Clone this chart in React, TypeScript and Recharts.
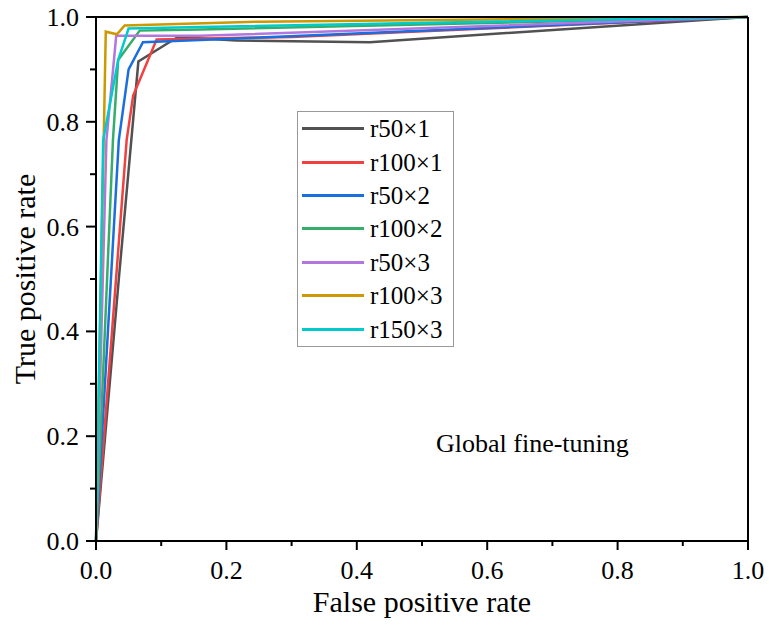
import { LineChart, Line, XAxis, YAxis, ReferenceLine } from "recharts";

// ROC points (false positive rate / true positive rate)
const fprR50x1 = [0, 0.035, 0.065, 0.11, 0.126, 0.215, 0.42, 1];
const tprR50x1 = [0, 0.5, 0.915, 0.95, 0.962, 0.955, 0.952, 1];

const fprR100x1 = [0, 0.047, 0.057, 0.093, 0.3, 1];
const tprR100x1 = [0, 0.765, 0.85, 0.957, 0.962, 1];

const fprR50x2 = [0, 0.035, 0.05, 0.072, 0.16, 1];
const tprR50x2 = [0, 0.765, 0.9, 0.952, 0.956, 1];

const fprR100x2 = [0, 0.026, 0.034, 0.067, 0.16, 1];
const tprR100x2 = [0, 0.765, 0.918, 0.974, 0.976, 1];

const fprR50x3 = [0, 0.016, 0.031, 0.16, 1];
const tprR50x3 = [0, 0.765, 0.964, 0.964, 1];

const fprR100x3 = [0, 0.015, 0.032, 0.044, 0.25, 1];
const tprR100x3 = [0, 0.972, 0.967, 0.984, 0.991, 1];

const fprR150x3 = [0, 0.011, 0.034, 0.05, 0.16, 1];
const tprR150x3 = [0, 0.765, 0.918, 0.978, 0.981, 1];

const seriesNames = ["r50×1", "r100×1", "r50×2", "r100×2", "r50×3", "r100×3", "r150×3"];
const seriesColors = ["#515151", "#F14040", "#1A6FDF", "#37AD6B", "#B177DE", "#CC9900", "#00CBCC"];
const seriesFpr = [fprR50x1, fprR100x1, fprR50x2, fprR100x2, fprR50x3, fprR100x3, fprR150x3];
const seriesTpr = [tprR50x1, tprR100x1, tprR50x2, tprR100x2, tprR50x3, tprR100x3, tprR150x3];

const axisTicks = [0, 0.1, 0.2, 0.3, 0.4, 0.5, 0.6, 0.7, 0.8, 0.9, 1];
const FONT = "'Liberation Serif', 'Times New Roman', serif";

const series = seriesNames.map((name, i) => ({
  name,
  color: seriesColors[i],
  data: seriesFpr[i].map((fpr, j) => ({ fpr, tpr: seriesTpr[i][j] })),
}));

const isMajor = (v: number) => Math.round(v * 10) % 2 === 0;

function XTick(props: any) {
  const { x, y, payload } = props;
  const major = isMajor(payload.value);
  return (
    <g>
      <line x1={x} x2={x} y1={y} y2={y + (major ? 9 : 5)} stroke="#000" strokeWidth={2} />
      {major && (
        <text x={x} y={y + 38} textAnchor="middle" fontSize={26} fontFamily={FONT} fill="#000">
          {payload.value.toFixed(1)}
        </text>
      )}
    </g>
  );
}

function YTick(props: any) {
  const { x, y, payload } = props;
  const major = isMajor(payload.value);
  return (
    <g>
      <line x1={x} x2={x - (major ? 10 : 6)} y1={y} y2={y} stroke="#000" strokeWidth={2} />
      {major && (
        <text x={x - 17} y={y + 9} textAnchor="end" fontSize={26} fontFamily={FONT} fill="#000">
          {payload.value.toFixed(1)}
        </text>
      )}
    </g>
  );
}

export default function App() {
  return (
    <div style={{ position: "relative", width: 769, height: 626, background: "#fff" }}>
      <style>{`body{margin:0}`}</style>
      <LineChart width={769} height={626} margin={{ top: 17, right: 21, left: 0, bottom: 0 }}>
        <XAxis
          dataKey="fpr"
          type="number"
          domain={[0, 1]}
          ticks={axisTicks}
          tick={<XTick />}
          tickLine={false}
          tickSize={0}
          tickMargin={0}
          height={85}
          axisLine={{ stroke: "#000", strokeWidth: 2 }}
          allowDuplicatedCategory={false}
          label={{
            content: (p: any) => (
              <text
                x={p.viewBox.x + p.viewBox.width / 2}
                y={612}
                textAnchor="middle"
                fontSize={30}
                fontFamily={FONT}
                fill="#000"
              >
                False positive rate
              </text>
            ),
          }}
        />
        <YAxis
          dataKey="tpr"
          type="number"
          domain={[0, 1]}
          ticks={axisTicks}
          tick={<YTick />}
          tickLine={false}
          tickSize={0}
          tickMargin={0}
          width={96}
          axisLine={{ stroke: "#000", strokeWidth: 2 }}
          label={{
            content: (p: any) => {
              const cy = p.viewBox.y + p.viewBox.height / 2;
              return (
                <text
                  x={24}
                  y={cy}
                  transform={`rotate(-90 24 ${cy})`}
                  textAnchor="middle"
                  dominantBaseline="central"
                  fontSize={30}
                  fontFamily={FONT}
                  fill="#000"
                >
                  True positive rate
                </text>
              );
            },
          }}
        />
        {series.map((s) => (
          <Line
            key={s.name}
            data={s.data}
            dataKey="tpr"
            name={s.name}
            type="linear"
            stroke={s.color}
            strokeWidth={2.5}
            dot={false}
            activeDot={false}
            isAnimationActive={false}
          />
        ))}
        <ReferenceLine y={1} stroke="#000" strokeWidth={2} />
        <ReferenceLine x={1} stroke="#000" strokeWidth={2} />
      </LineChart>

      <div
        style={{
          position: "absolute",
          left: 297,
          top: 111,
          width: 157,
          height: 236,
          border: "1px solid #999",
          boxSizing: "border-box",
          background: "#fff",
          fontFamily: FONT,
          fontSize: 25,
        }}
      >
        {series.map((s) => (
          <div key={s.name} style={{ height: 33.4, display: "flex", alignItems: "center" }}>
            <div style={{ marginLeft: 4, width: 62, height: 3, background: s.color }} />
            <span style={{ marginLeft: 6, lineHeight: 1, color: "#000" }}>{s.name}</span>
          </div>
        ))}
      </div>

      <div
        style={{
          position: "absolute",
          left: 436,
          top: 431,
          fontFamily: FONT,
          fontSize: 26,
          lineHeight: "26px",
          color: "#000",
          whiteSpace: "nowrap",
        }}
      >
        Global fine-tuning
      </div>
    </div>
  );
}
